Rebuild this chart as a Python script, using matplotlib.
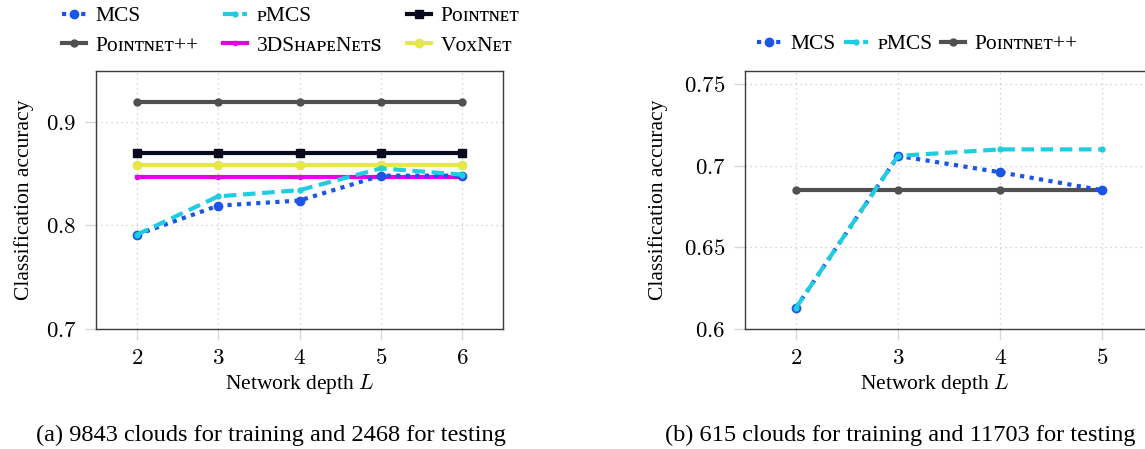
"""Classification accuracy vs network depth, two training/testing splits."""

import matplotlib

matplotlib.use("Agg")
import matplotlib.pyplot as plt

plt.rcParams["font.family"] = ["Liberation Serif", "DejaVu Serif", "DejaVu Sans"]
plt.rcParams["mathtext.fontset"] = "cm"

# (a) 9843 training / 2468 testing
depth_a = [2, 3, 4, 5, 6]
mcs_a = [0.791, 0.819, 0.824, 0.848, 0.848]
pmcs_a = [0.791, 0.828, 0.834, 0.855, 0.849]
pointnet_a = [0.870, 0.870, 0.870, 0.870, 0.870]
pointnetpp_a = [0.919, 0.919, 0.919, 0.919, 0.919]
shapenets_a = [0.847, 0.847, 0.847, 0.847, 0.847]
voxnet_a = [0.858, 0.858, 0.858, 0.858, 0.858]
yticks_a = [0.7, 0.8, 0.9]

# (b) 615 training / 11703 testing
depth_b = [2, 3, 4, 5]
mcs_b = [0.613, 0.706, 0.696, 0.685]
pmcs_b = [0.613, 0.706, 0.710, 0.710]
pointnetpp_b = [0.685, 0.685, 0.685, 0.685]
yticks_b = [0.6, 0.65, 0.7, 0.75]

SMALL = {"a": "\u1d00", "c": "\u1d04", "e": "\u1d07", "h": "\u029c", "i": "\u026a",
         "n": "\u0274", "o": "\u1d0f", "p": "\u1d18", "s": "\ua731", "t": "\u1d1b"}


def sc(text):
    return "".join(SMALL.get(ch, ch) for ch in text)


STYLES = {
    "MCS": dict(color="#1a55e8", linestyle=(0, (1, 1.3)), marker="o", markersize=6, lw=3),
    "pMCS": dict(color="#1fcde3", linestyle=(0, (3, 1.6)), marker="o", markersize=3.5, lw=3),
    "PointNet": dict(color="#0a0a1e", linestyle="-", marker="s", markersize=5.5, lw=3),
    "PointNet++": dict(color="#505050", linestyle="-", marker="o", markersize=5, lw=3),
    "3DShapeNets": dict(color="#e600e6", linestyle="-", marker="o", markersize=3, lw=3),
    "VoxNet": dict(color="#e6e64d", linestyle="-", marker="o", markersize=6, lw=3),
}
LABELS = {"MCS": "MCS", "pMCS": sc("p") + "MCS", "PointNet": "P" + sc("ointnet"),
          "PointNet++": "P" + sc("ointnet") + "++", "3DShapeNets": "3DS" + sc("hape") + "N" + sc("ets"),
          "VoxNet": "V" + sc("o") + "xN" + sc("et")}


def style_axes(ax, xlim, ylim, xticks, yticks, ylabels):
    ax.set_xlim(*xlim)
    ax.set_ylim(*ylim)
    ax.set_xticks(xticks)
    ax.set_xticklabels([f"${t}$" for t in xticks])
    ax.set_yticks(yticks)
    ax.set_yticklabels([f"${t}$" for t in ylabels])
    ax.tick_params(direction="out", length=8, width=1, color="#d8d8d8", labelsize=16.5, pad=6)
    ax.grid(True, color="#c8c8c8", linestyle=(0, (1, 3)), linewidth=0.9)
    for spine in ax.spines.values():
        spine.set_color("#3c3c3c")
        spine.set_linewidth(1.0)
    ax.set_ylabel("Classification accuracy", fontsize=15.5)
    ax.set_xlabel("Network depth $L$", fontsize=15.5)


W, H = 1145, 449
fig = plt.figure(figsize=(W / 100, H / 100), dpi=100)

ax = fig.add_axes([96 / W, 120 / H, 407 / W, 258 / H])
series_a = {"MCS": mcs_a, "pMCS": pmcs_a, "PointNet": pointnet_a,
            "PointNet++": pointnetpp_a, "3DShapeNets": shapenets_a, "VoxNet": voxnet_a}
handles = {}
for name in ["PointNet++", "PointNet", "VoxNet", "3DShapeNets", "MCS", "pMCS"]:
    (line,) = ax.plot(depth_a, series_a[name], label=LABELS[name], **STYLES[name])
    handles[name] = line
style_axes(ax, (1.5, 6.5), (0.7, 0.949), depth_a, yticks_a, ["0.7", "0.8", "0.9"])
ax.yaxis.set_label_coords(-0.152, 0.5)
ax.xaxis.set_label_coords(0.5, -0.165)
# legend fills column by column, so list entries to read row by row
legend_order = ["MCS", "PointNet++", "pMCS", "3DShapeNets", "PointNet", "VoxNet"]
ax.legend([handles[n] for n in legend_order], [LABELS[n] for n in legend_order],
          loc="upper left", bbox_to_anchor=(62 / W, 1 - 6 / H), bbox_transform=fig.transFigure,
          ncol=3, frameon=False, fontsize=15.5, handlelength=1.1, handletextpad=0.45,
          columnspacing=1.15, labelspacing=0.45, borderpad=0, borderaxespad=0)
fig.text(271 / W, 1 - 435 / H, "(a) 9843 clouds for training and 2468 for testing",
         ha="center", va="center", fontsize=17.6)

ax2 = fig.add_axes([745 / W, 120 / H, 408 / W, 258 / H])
handles2 = {}
series_b = {"MCS": mcs_b, "pMCS": pmcs_b, "PointNet++": pointnetpp_b}
for name in ["PointNet++", "MCS", "pMCS"]:
    (line,) = ax2.plot(depth_b, series_b[name], label=LABELS[name], **STYLES[name])
    handles2[name] = line
style_axes(ax2, (1.5, 5.5), (0.6, 0.758), depth_b, yticks_b, ["0.6", "0.65", "0.7", "0.75"])
ax2.yaxis.set_label_coords(-0.188, 0.5)
ax2.xaxis.set_label_coords((935 - 745) / 408, -0.165)
ax2.legend([handles2[n] for n in ["MCS", "pMCS", "PointNet++"]],
           [LABELS[n] for n in ["MCS", "pMCS", "PointNet++"]],
           loc="upper left", bbox_to_anchor=(757 / W, 1 - 34 / H), bbox_transform=fig.transFigure,
           ncol=3, frameon=False, fontsize=15.5, handlelength=1.1, handletextpad=0.45,
           columnspacing=0.4, borderpad=0, borderaxespad=0)
fig.text(900 / W, 1 - 435 / H, "(b) 615 clouds for training and 11703 for testing",
         ha="center", va="center", fontsize=17.6)

fig.savefig("out.png", dpi=100)
